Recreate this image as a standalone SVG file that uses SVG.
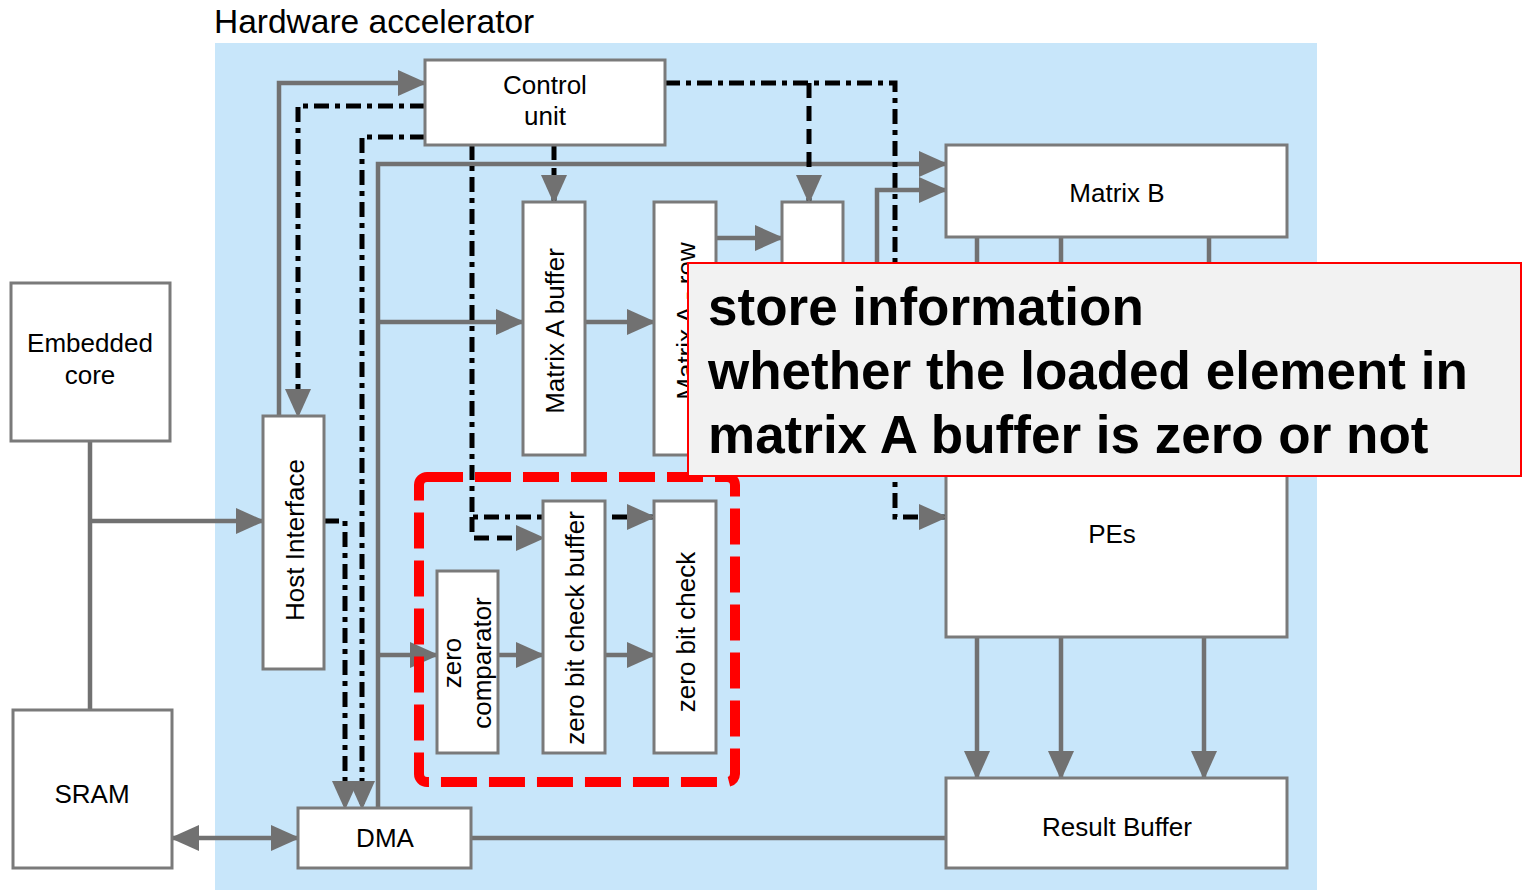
<svg xmlns="http://www.w3.org/2000/svg" width="1525" height="890" viewBox="0 0 1525 890">
<style>
.box{fill:#fff;stroke:#7a7a7a;stroke-width:3}
.lbl{font-family:"Liberation Sans",Arial,sans-serif;font-size:26px;fill:#000;text-anchor:middle}
.g{fill:none;stroke:#717171;stroke-width:4.5}
.dd{fill:none;stroke:#000;stroke-width:5;stroke-dasharray:15,6,5,6}
.ds{fill:none;stroke:#000;stroke-width:5;stroke-dasharray:15,8}
.arr{marker-end:url(#ah)}
</style>
<defs>
<marker id="ah" markerUnits="userSpaceOnUse" markerWidth="29" markerHeight="26" refX="27" refY="13" orient="auto-start-reverse" viewBox="0 0 29 26">
<path d="M0,0 L29,13 L0,26 z" fill="#717171"/>
</marker>
</defs>
<rect x="0" y="0" width="1525" height="890" fill="#fff"/>
<rect x="215" y="43" width="1102" height="847" fill="#c8e6fa"/>
<text x="214" y="33" font-family="Liberation Sans,Arial,sans-serif" font-size="33.5" fill="#000">Hardware accelerator</text>

<g id="connectors">
<path class="g" d="M90,441 V710"/>
<path class="g arr" d="M90,521 H263"/>
<path class="g arr" d="M172,838 H298" marker-start="url(#ah)"/>
<path class="g arr" d="M279,416 V83 H425"/>
<path class="dd arr" d="M425,106 H298 V416"/>
<path class="dd arr" d="M425,137 H362 V808"/>
<path class="dd arr" d="M324,521 H345 V808"/>
<path class="g arr" d="M378,808 V164 H946"/>
<path class="g arr" d="M378,322 H523"/>
<path class="g arr" d="M378,655 H437"/>
<path class="g arr" d="M498,655 H543"/>
<path class="g arr" d="M605,655 H654"/>
<path class="g arr" d="M585,322 H654"/>
<path class="ds arr" d="M554,145 V202"/>
<path class="dd arr" d="M472,145 V517 H654"/>
<path class="ds arr" d="M472,517 V538 H543"/>
<path class="dd arr" d="M665,83 H895 V517 H946"/>
<path class="ds arr" d="M809,83 V202"/>
<path class="g arr" d="M716,238 H782"/>
<path class="g arr" d="M877,400 V190 H946"/>
<path class="g" d="M977,237 V320 M1061,237 V320 M1209,237 V320"/>
<path class="g arr" d="M977,637 V778"/>
<path class="g arr" d="M1061,637 V778"/>
<path class="g arr" d="M1204,637 V778"/>
<path class="g" d="M471,838 H946"/>
</g>

<g id="embedded-core"><rect class="box" x="11" y="283" width="159" height="158"/>
<text class="lbl" x="90" y="352">Embedded</text><text class="lbl" x="90" y="384">core</text></g>
<g id="sram"><rect class="box" x="13" y="710" width="159" height="158"/><text class="lbl" x="92" y="803">SRAM</text></g>
<g id="control-unit"><rect class="box" x="425" y="60" width="240" height="85"/>
<text class="lbl" x="545" y="94">Control</text><text class="lbl" x="545" y="125">unit</text></g>
<g id="host-interface"><rect class="box" x="263" y="416" width="61" height="253"/>
<text class="lbl" transform="translate(295,540) rotate(-90)" y="9">Host Interface</text></g>
<g id="dma"><rect class="box" x="298" y="808" width="173" height="60"/><text class="lbl" x="385" y="847">DMA</text></g>
<g id="matrix-a-buffer"><rect class="box" x="523" y="202" width="62" height="253"/>
<text class="lbl" transform="translate(555,331) rotate(-90)" y="9">Matrix A buffer</text></g>
<g id="matrix-a-row"><rect class="box" x="654" y="202" width="62" height="253"/>
<text class="lbl" transform="translate(686,321) rotate(-90)" y="9">Matrix A - row</text></g>
<g id="small-box"><rect class="box" x="782" y="202" width="61" height="200"/></g>
<g id="matrix-b"><rect class="box" x="946" y="145" width="341" height="92"/><text class="lbl" x="1117" y="202">Matrix B</text></g>
<g id="pes"><rect class="box" x="946" y="320" width="341" height="317"/><text class="lbl" x="1112" y="543">PEs</text></g>
<g id="result-buffer"><rect class="box" x="946" y="778" width="341" height="90"/><text class="lbl" x="1117" y="836">Result Buffer</text></g>
<g id="zero-comparator"><rect class="box" x="437" y="571" width="61" height="182"/>
<text class="lbl" transform="translate(467,663) rotate(-90)"><tspan x="0" y="-6">zero</tspan><tspan x="0" y="24">comparator</tspan></text></g>
<g id="zero-bit-check-buffer"><rect class="box" x="543" y="501" width="62" height="252"/>
<text class="lbl" transform="translate(575,628) rotate(-90)" y="9">zero bit check buffer</text></g>
<g id="zero-bit-check"><rect class="box" x="654" y="501" width="62" height="252"/>
<text class="lbl" transform="translate(686,632) rotate(-90)" y="9">zero bit check</text></g>

<g id="highlight"><rect x="419" y="477" width="316" height="305" rx="8" fill="none" stroke="#ff0000" stroke-width="10" stroke-dasharray="36,12"/></g>

<g id="callout"><rect x="688" y="263" width="833" height="213" fill="#f2f2f2" stroke="#ff0000" stroke-width="2"/>
<text font-family="Liberation Sans,Arial,sans-serif" font-size="53" font-weight="bold" fill="#000">
<tspan x="708" y="325">store information</tspan>
<tspan x="708" y="389">whether the loaded element in</tspan>
<tspan x="708" y="453">matrix A buffer is zero or not</tspan></text></g>
</svg>
